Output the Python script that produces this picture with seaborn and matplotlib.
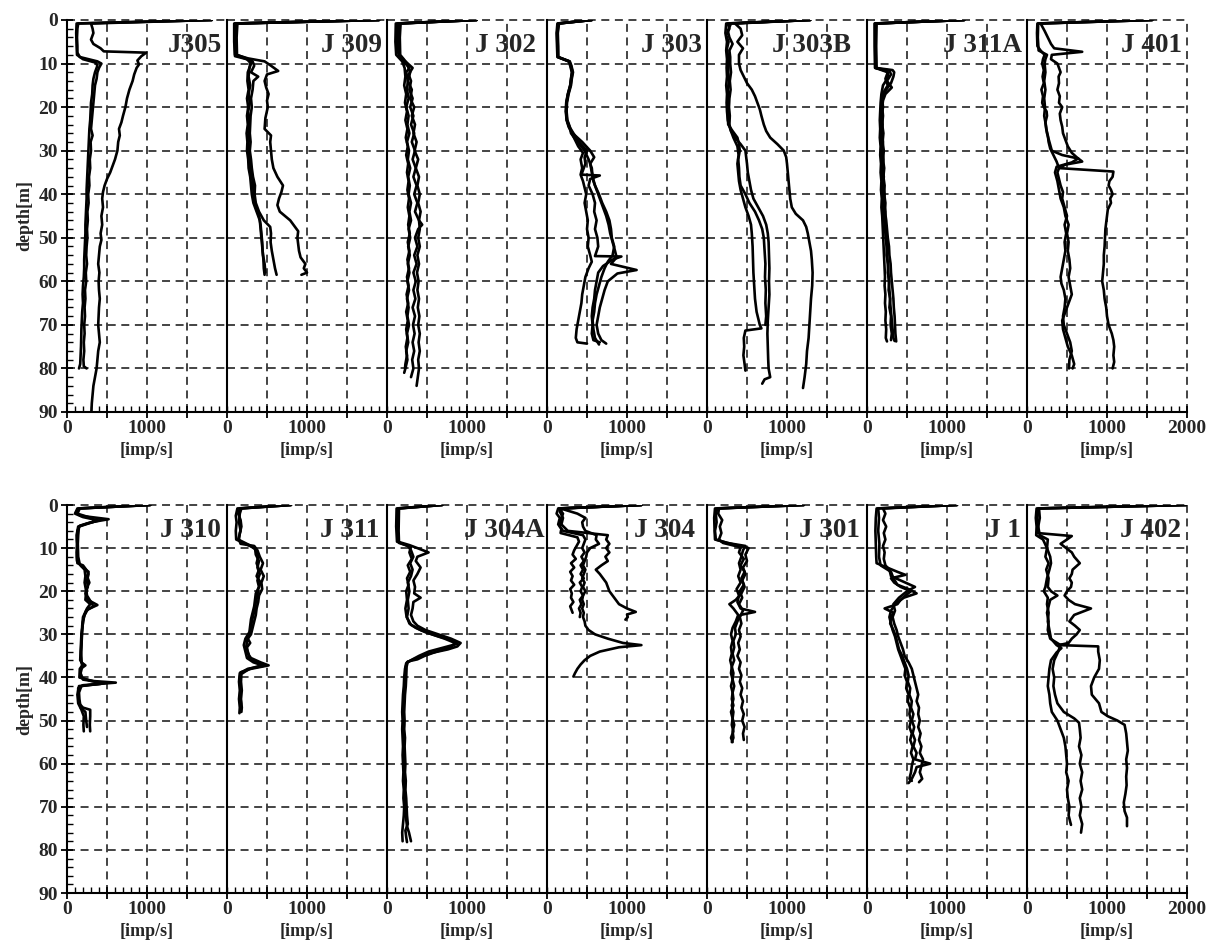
import matplotlib
matplotlib.use("Agg")
import matplotlib.pyplot as plt
import pandas as pd
import seaborn as sns
from matplotlib.ticker import FixedLocator, MultipleLocator

# Gamma-ray logs: count rate [imp/s] against depth [m], several runs per well.
# Each run is a list of (depth, rate) readings.

J305 = [
    [(0, 1810), (0.8, 300), (2, 320), (3, 330), (4.5, 300), (5.5, 330), (6.5, 420), (7.2, 460), (7.5, 990),
     (8.3, 930), (9.3, 880), (10.2, 900), (11, 870), (12.5, 840), (14, 820), (16, 780), (18, 750), (20, 730),
     (22, 700), (23.5, 680), (25, 650), (26.5, 660), (28, 640), (30, 630), (32, 600), (33.5, 570), (35, 540),
     (36.5, 500), (38, 470), (39.5, 450), (41, 440), (43, 450), (45, 430), (47, 440), (49, 420), (50.5, 430),
     (52, 410), (54, 400), (56, 390), (58, 405), (60, 395), (62, 400), (64, 410), (66, 400), (68, 395),
     (70, 390), (72, 400), (74, 410), (76, 390), (78, 380), (80, 370), (82, 350), (84, 330), (86, 320),
     (88, 310), (90, 305)],
    [(0, 1810), (0.8, 140), (2, 130), (4, 125), (6, 130), (7.5, 130), (8.5, 160), (9.5, 380), (10, 430),
     (11, 400), (12, 380), (13.5, 370), (15, 350), (17, 340), (19, 330), (21, 320), (23, 310), (25, 300),
     (26.5, 320), (28, 295), (30, 300), (32, 285), (34, 290), (36, 275), (38, 280), (40, 265), (42, 270),
     (44, 255), (46, 260), (48, 250), (50, 255), (52, 245), (54, 240), (56, 250), (58, 235), (60, 240),
     (62, 225), (64, 230), (66, 220), (68, 225), (70, 215), (72, 220), (74, 210), (76, 215), (78, 205),
     (79.5, 210), (80, 245)],
    [(0, 1810), (0.8, 120), (3, 115), (6, 120), (8, 125), (9, 200), (9.8, 360), (10.5, 380), (12, 350),
     (13.5, 330), (15, 320), (17, 315), (19, 300), (21, 295), (23, 290), (25, 280), (27, 275), (29, 270),
     (31, 265), (33, 260), (35, 255), (37, 250), (39, 245), (41, 245), (43, 240), (45, 235), (47, 230),
     (49, 230), (51, 225), (53, 220), (55, 215), (57, 215), (59, 210), (61, 200), (63, 195), (65, 200),
     (67, 190), (69, 185), (71, 180), (73, 178), (75, 175), (77, 170), (79, 165), (80, 150)],
]

J309 = [
    [(0, 1900), (0.8, 120), (4, 110), (8, 115), (8.8, 260), (9.5, 470), (10.5, 550), (11.7, 640), (12.5, 500),
     (14, 470), (15.5, 490), (17, 520), (18.5, 500), (20, 510), (22.5, 480), (25, 470), (26.5, 550), (28, 540),
     (30, 550), (32, 560), (34, 580), (36, 630), (38, 700), (39.5, 680), (41, 650), (42.5, 630), (44, 660),
     (46, 790), (47.5, 850), (48.5, 890), (50, 880), (51.5, 890), (53, 900), (54.5, 920), (56, 980), (57, 960),
     (58, 1000), (58.5, 930)],
    [(0, 1900), (0.8, 100), (4, 95), (8, 100), (8.8, 220), (9.5, 320), (10.5, 340), (12, 300), (13, 390),
     (14, 330), (16, 320), (18, 300), (20, 310), (22, 295), (24, 290), (26, 285), (28, 295), (30, 285),
     (32, 300), (34, 310), (36, 325), (38, 350), (40, 345), (42, 360), (44, 400), (46, 460), (47.5, 540),
     (49, 550), (51, 545), (53, 560), (55, 580), (57, 600), (58.5, 620)],
    [(0, 1900), (0.8, 130), (4, 120), (8, 125), (8.8, 240), (9.5, 300), (11, 280), (13, 270), (15, 290),
     (17, 270), (19, 285), (21, 265), (23, 280), (25, 270), (27, 275), (29, 265), (31, 280), (33, 285),
     (35, 300), (37, 320), (39, 330), (41, 335), (43, 360), (45, 400), (47, 420), (49, 430), (51, 440),
     (53, 445), (55, 455), (57, 460), (58.5, 470)],
    [(0, 1900), (0.8, 90), (5, 90), (8.3, 100), (9, 250), (10, 300), (12, 260), (14, 255), (16, 270),
     (18, 250), (20, 265), (22, 250), (24, 260), (26, 245), (28, 255), (30, 250), (32, 265), (34, 270),
     (36, 290), (38, 300), (40, 310), (42, 330), (44, 370), (46, 410), (48, 420), (50, 430), (52, 440),
     (54, 450), (56, 470), (58, 480)],
]

J302 = [
    [(0, 1120), (0.8, 150), (3, 140), (5, 135), (7, 140), (8, 150), (9, 200), (10, 230), (11, 280), (12, 240),
     (14, 260), (16, 250), (18, 270), (20, 240), (22, 270), (24, 255), (26, 280), (28, 250), (30, 275),
     (32, 260), (34, 290), (36, 265), (38, 285), (40, 270), (42, 300), (44, 280), (46, 300), (48, 270),
     (50, 290), (52, 265), (54, 285), (56, 260), (58, 280), (60, 255), (62, 275), (64, 250), (66, 270),
     (68, 255), (70, 275), (72, 250), (74, 265), (76, 240), (78, 255), (80, 230), (81, 215)],
    [(0, 1120), (0.8, 130), (4, 125), (7, 130), (8.5, 160), (9.5, 230), (11, 320), (12.5, 270), (14, 300),
     (16, 280), (18, 320), (20, 290), (22, 330), (24, 300), (26, 340), (28, 310), (30, 350), (32, 320),
     (34, 360), (36, 330), (38, 370), (40, 340), (42, 380), (44, 350), (46, 400), (47, 440), (48, 390),
     (50, 350), (52, 380), (54, 340), (56, 370), (58, 330), (60, 360), (62, 330), (64, 355), (66, 320),
     (68, 350), (70, 325), (72, 345), (74, 320), (76, 340), (78, 315), (80, 330), (82, 300)],
    [(0, 1120), (0.8, 170), (4, 160), (8, 165), (9, 210), (10, 250), (12, 290), (14, 260), (16, 310),
     (18, 290), (20, 340), (22, 310), (24, 350), (26, 330), (28, 370), (30, 345), (32, 390), (34, 360),
     (36, 400), (38, 380), (40, 410), (42, 390), (44, 420), (46, 400), (48, 410), (50, 390), (52, 410),
     (54, 380), (56, 400), (58, 375), (60, 395), (62, 380), (64, 400), (66, 385), (68, 405), (70, 390),
     (72, 410), (74, 395), (76, 410), (78, 390), (80, 400), (82, 385), (84, 370)],
    [(0, 1120), (0.8, 110), (5, 105), (8, 115), (9.5, 190), (11, 220), (13, 230), (15, 215), (17, 240),
     (19, 225), (21, 250), (23, 230), (25, 255), (27, 235), (29, 260), (31, 240), (33, 265), (35, 250),
     (37, 270), (39, 255), (41, 275), (43, 260), (45, 280), (47, 265), (49, 285), (51, 260), (53, 280),
     (55, 255), (57, 275), (59, 250), (61, 270), (63, 245), (65, 265), (67, 240), (69, 260), (71, 240),
     (73, 255), (75, 235), (77, 250), (79, 230), (80, 225)],
]

J303 = [
    [(0, 560), (0.8, 140), (3, 125), (6, 130), (8.5, 135), (9.5, 270), (10.5, 290), (12, 310), (13.5, 300),
     (15, 290), (17, 260), (19, 240), (21, 235), (23, 245), (24.5, 270), (26, 310), (27.5, 350), (29, 390),
     (30.5, 450), (32, 420), (34, 440), (35.5, 420), (37, 450), (38.5, 470), (40, 490), (42, 470), (44, 490),
     (46, 510), (48, 500), (50, 520), (52, 510), (54, 540), (55.5, 560), (57, 520), (59, 480), (61, 460),
     (63, 440), (65, 430), (67, 410), (69, 390), (71, 370), (73, 360), (74, 380), (74.3, 500)],
    [(0, 560), (0.8, 150), (3, 135), (6, 140), (8.5, 140), (9.5, 280), (10.5, 300), (12, 320), (13.5, 305),
     (15, 295), (17, 265), (19, 245), (21, 240), (23, 250), (24.5, 280), (26, 330), (28, 400), (30, 500),
     (31.5, 470), (33, 480), (35.5, 430), (35.7, 660), (36.5, 540), (38, 520), (40, 570), (42, 600), (44, 590),
     (46, 620), (48, 600), (50, 630), (52, 640), (54.2, 600), (54.3, 930), (55, 820), (56.5, 700), (58, 640),
     (60, 620), (62, 600), (64, 590), (66, 570), (68, 560), (70, 570), (72, 560), (73.5, 580), (74, 660)],
    [(0, 560), (0.8, 130), (3, 120), (6, 125), (8.5, 130), (9.5, 275), (10.5, 295), (12, 315), (13.5, 300),
     (15, 290), (17, 262), (19, 242), (21, 238), (23, 248), (24.5, 275), (26, 320), (28, 440), (30, 540),
     (31.5, 590), (33, 540), (35, 560), (37, 580), (39, 620), (41, 660), (43, 700), (45, 740), (47, 770),
     (49, 790), (51, 820), (53, 850), (54.5, 870), (56, 800), (57.4, 1120), (58.2, 880), (60, 760), (62, 720),
     (64, 690), (66, 660), (68, 640), (70, 620), (72, 640), (73.5, 680), (74.3, 740)],
    [(0, 560), (0.8, 145), (3, 130), (6, 135), (8.5, 140), (9.5, 285), (10.5, 305), (12, 325), (13.5, 310),
     (15, 300), (17, 270), (19, 250), (21, 245), (23, 255), (24.5, 285), (26, 300), (28, 380), (30, 470),
     (32, 520), (34, 560), (36, 570), (38, 600), (40, 650), (42, 690), (44, 740), (46, 780), (48, 800),
     (50, 810), (52, 840), (54, 820), (55.5, 760), (57, 720), (59, 680), (61, 650), (63, 620), (65, 600),
     (67, 590), (69, 570), (71, 580), (73, 600), (74.5, 650)],
]

J303B = [
    [(0, 1290), (0.8, 350), (2, 420), (3.5, 440), (5, 380), (6.5, 450), (8, 400), (10, 400), (11.5, 420),
     (13, 460), (14.5, 500), (16, 560), (17.5, 600), (19, 630), (20.5, 660), (22, 680), (24, 710), (25.5, 740),
     (27, 790), (28.5, 880), (30, 960), (31.5, 990), (33, 1000), (35, 1010), (37, 1020), (39, 1030), (41, 1040),
     (43, 1060), (44.5, 1110), (46, 1200), (47.5, 1240), (49, 1260), (51, 1280), (53, 1300), (55, 1310),
     (58, 1320), (61, 1315), (64, 1300), (67, 1290), (70, 1280), (73, 1270), (76, 1250), (79, 1240),
     (82, 1220), (84.5, 1200)],
    [(0, 1290), (0.8, 300), (2.5, 260), (4, 280), (5.5, 320), (7, 280), (8.5, 290), (10, 290), (12, 300),
     (14, 285), (16, 295), (18, 280), (20, 275), (22, 285), (24, 280), (25.5, 300), (27, 350), (28.5, 420),
     (30, 480), (31.5, 490), (33, 500), (35, 510), (37, 530), (39, 550), (41, 580), (43, 640), (45, 700),
     (47, 740), (49, 760), (51, 770), (54, 775), (57, 780), (60, 775), (63, 780), (66, 770), (69, 760),
     (72, 755), (75, 760), (78, 765), (80, 770), (82, 790), (82.5, 720), (83.5, 690)],
    [(0, 1290), (0.8, 260), (2, 280), (3.5, 240), (5, 270), (6.5, 250), (8, 260), (10, 270), (12, 265),
     (14, 275), (16, 260), (18, 265), (20, 255), (22, 260), (24, 265), (25.5, 320), (27, 380), (28.5, 400),
     (30, 410), (32, 390), (34, 400), (36, 405), (38, 420), (40, 480), (42, 530), (44, 600), (46, 650),
     (48, 690), (50, 710), (53, 720), (56, 730), (59, 725), (62, 735), (65, 730), (68, 740), (70, 730)],
    [(0, 1290), (0.8, 240), (3, 230), (5, 250), (7, 240), (9, 250), (11, 245), (13, 250), (15, 240),
     (17, 250), (19, 245), (21, 250), (23, 260), (25, 290), (27, 330), (29, 380), (31, 395), (33, 380),
     (35, 390), (37, 400), (39, 420), (41, 450), (43, 480), (45, 520), (47, 550), (49, 560), (52, 570),
     (55, 575), (58, 580), (61, 590), (64, 600), (67, 620), (70, 660), (70.8, 680), (71.3, 480), (73, 460),
     (75, 465), (77, 455), (79, 470), (80.5, 480)],
]

J311A = [
    [(0, 1215), (0.8, 110), (5, 105), (9, 110), (11, 110), (11.5, 320), (12, 340), (13, 330), (14.5, 300),
     (16, 240), (17.5, 200), (19, 180), (21, 175), (23, 170), (25, 180), (27, 170), (29, 180), (31, 175),
     (33, 185), (35, 180), (37, 190), (39, 185), (41, 200), (43, 195), (45, 210), (47, 220), (49, 230),
     (51, 240), (53, 250), (55, 255), (57, 265), (59, 270), (61, 275), (63, 285), (65, 290), (67, 300),
     (69, 310), (71, 320), (73, 330), (73.7, 345)],
    [(0, 1215), (0.8, 95), (6, 95), (11, 100), (11.6, 280), (12.5, 300), (14, 250), (15.5, 310), (17, 230),
     (18.5, 200), (20, 190), (22, 200), (24, 190), (26, 205), (28, 195), (30, 210), (32, 200), (34, 215),
     (36, 205), (38, 220), (40, 215), (42, 230), (44, 225), (46, 240), (48, 250), (50, 260), (52, 275),
     (54, 280), (56, 295), (58, 300), (60, 310), (62, 320), (64, 330), (66, 335), (68, 345), (70, 350),
     (72, 355), (73.8, 365)],
    [(0, 1215), (0.8, 120), (6, 115), (11, 120), (11.8, 250), (13, 270), (15, 200), (17, 180), (19, 170),
     (21, 165), (23, 160), (25, 165), (27, 160), (29, 170), (31, 165), (33, 175), (35, 170), (37, 180),
     (39, 175), (41, 185), (43, 180), (45, 190), (47, 195), (49, 200), (51, 205), (53, 210), (55, 215),
     (57, 220), (59, 225), (61, 220), (63, 230), (65, 225), (67, 235), (69, 230), (71, 240), (73, 235),
     (73.8, 250)],
    [(0, 1215), (0.8, 100), (11, 105), (12, 260), (13.5, 230), (15, 260), (16.5, 210), (18, 190), (20, 200),
     (22, 185), (24, 195), (26, 185), (28, 200), (30, 190), (32, 205), (34, 195), (36, 210), (38, 200),
     (40, 220), (42, 210), (44, 230), (46, 225), (48, 240), (50, 235), (52, 250), (54, 245), (56, 265),
     (58, 260), (60, 280), (62, 270), (64, 290), (66, 280), (68, 300), (70, 295), (72, 310), (73.5, 300)],
]

J401 = [
    [(0, 1565), (0.8, 130), (3, 125), (6, 130), (7, 170), (8, 220), (9, 200), (10, 190), (11.5, 210),
     (13, 195), (14.5, 210), (16, 180), (17.5, 200), (19, 190), (20, 210), (21, 245), (22, 250), (23.5, 230),
     (25, 240), (26.5, 260), (28, 270), (29.5, 290), (31, 330), (32.5, 370), (34, 400), (34.8, 1080),
     (36, 1070), (37, 1030), (38, 1020), (39, 1050), (40, 1070), (41, 1040), (42, 1050), (43.5, 1010),
     (45, 1000), (46.5, 990), (48, 980), (50, 975), (52, 970), (54, 960), (56, 960), (58, 950), (60, 940),
     (62, 960), (64, 970), (66, 990), (68, 1000), (70, 1020), (72, 1060), (73.5, 1080), (75, 1090),
     (77, 1080), (78.5, 1090), (80, 1070)],
    [(0, 1565), (0.8, 170), (2.5, 220), (4, 260), (5.5, 300), (6.5, 340), (7.3, 690), (8, 310), (9, 300),
     (10, 380), (11, 400), (12, 420), (13, 395), (14.5, 400), (16, 380), (17.5, 410), (19, 400), (20, 440),
     (21.5, 410), (23, 420), (24.5, 440), (26, 450), (27.5, 480), (29, 510), (30.5, 560), (31.5, 620),
     (32.5, 690), (33.2, 480), (34, 400), (35, 380), (36.5, 400), (38, 420), (39.5, 450), (41, 440),
     (43, 470), (45, 500), (47, 470), (49, 490), (51, 470), (53, 480), (55, 460), (57, 440), (59, 420),
     (60.5, 430), (62, 460), (64, 480), (66, 470), (68, 450), (70, 460), (72, 500), (74, 540), (76, 560),
     (78, 530), (80, 525)],
    [(0, 1565), (0.8, 140), (4, 135), (7, 145), (8, 250), (9, 230), (10, 220), (12, 230), (14, 215),
     (16, 230), (18, 215), (20, 225), (22, 215), (24, 235), (26, 250), (28, 280), (30, 310), (31, 440),
     (31.8, 640), (32.7, 560), (33.7, 370), (35, 350), (37, 380), (39, 400), (41, 420), (43, 460), (45, 480),
     (47, 520), (49, 500), (51, 520), (53, 510), (55, 530), (57, 540), (59, 520), (61, 540), (63, 560),
     (65, 520), (67, 480), (69, 440), (71, 450), (73, 480), (75, 510), (77, 560), (79, 590), (80, 570)],
]

J310 = [
    [(0, 1040), (0.8, 150), (1.8, 110), (2.5, 170), (3.3, 520), (4, 300), (4.8, 160), (6, 130), (8, 125),
     (10, 130), (12, 125), (13.5, 130), (14, 200), (15, 240), (16, 270), (17.5, 250), (19, 260), (20.5, 230),
     (22, 260), (23.2, 380), (24.2, 260), (25.5, 220), (27, 200), (29, 190), (31, 185), (33, 180), (35, 175),
     (36.5, 180), (37.2, 230), (38, 170), (40, 165), (40.8, 300), (41.2, 610), (41.8, 200), (42.5, 140),
     (44, 140), (46, 150), (47, 200), (47.5, 290), (49, 290), (51, 285), (52.5, 290)],
    [(0, 1040), (0.8, 130), (2, 100), (2.8, 200), (3.6, 400), (4.3, 250), (5, 140), (7, 120), (9, 125),
     (11, 120), (13, 125), (14.2, 180), (15.5, 270), (16.5, 250), (18, 280), (19.5, 240), (21, 250),
     (22.5, 300), (23.5, 330), (24.5, 240), (26, 210), (28, 195), (30, 180), (32, 175), (34, 170), (36, 165),
     (37, 200), (38, 160), (40, 155), (41, 350), (41.5, 420), (42, 150), (44, 130), (46, 140), (47.5, 180),
     (49, 210), (51, 205), (52.5, 210)],
    [(0, 1040), (0.8, 160), (2, 130), (3, 300), (3.8, 350), (5, 150), (7, 140), (9, 135), (12, 140),
     (13.8, 160), (15, 220), (16.5, 230), (18, 220), (20, 240), (22, 230), (23, 290), (24, 250), (26, 200),
     (28, 190), (30, 185), (32, 180), (34, 175), (36, 180), (37.5, 190), (39, 170), (40.5, 200), (41.3, 480),
     (42, 180), (43.5, 150), (45, 155), (47, 170), (48, 230), (50, 240), (51.5, 250)],
]

J311 = [
    [(0, 800), (0.8, 160), (2, 140), (3.5, 170), (5, 180), (6.5, 160), (8, 150), (9, 170), (9.5, 340),
     (10.5, 380), (12, 410), (13.5, 450), (15, 420), (16.5, 460), (18, 430), (19.5, 440), (21, 400),
     (22.5, 390), (24, 370), (25.5, 360), (27, 340), (28.5, 320), (30, 300), (31, 260), (32, 290), (33, 250),
     (34.5, 260), (35.5, 300), (36.5, 420), (37.2, 520), (38, 300), (38.8, 170), (40, 160), (42, 170),
     (44, 165), (46, 175), (48, 170)],
    [(0, 800), (0.8, 130), (2.5, 110), (4, 120), (6, 110), (8, 115), (9.2, 250), (10, 350), (11.5, 360),
     (13, 400), (14.5, 380), (16, 410), (17.5, 380), (19, 400), (20.5, 360), (22, 350), (23.5, 340), (25, 320),
     (26.5, 300), (28, 290), (29.5, 280), (31, 230), (32.5, 210), (34, 230), (35.5, 250), (36.5, 330),
     (37.3, 460), (38, 260), (39, 160), (41, 150), (43, 160), (45, 150), (47, 160), (48.3, 155)],
    [(0, 800), (0.8, 180), (2, 160), (4, 150), (6, 170), (8, 140), (9.3, 280), (10.5, 370), (12, 390),
     (13.5, 370), (15, 400), (16.5, 370), (18, 420), (19.5, 390), (21, 380), (22.5, 360), (24, 350),
     (25.5, 330), (27, 310), (28.5, 300), (30, 280), (31.5, 250), (33, 240), (34.5, 270), (35.5, 280),
     (36.5, 380), (37, 470), (38, 280), (39.2, 180), (41, 175), (43, 185), (45, 175), (47, 185), (48, 180)],
]

J304A = [
    [(0, 690), (0.8, 140), (4, 130), (8.5, 135), (9.3, 280), (10, 380), (11, 520), (12, 380), (13, 360),
     (14.5, 420), (16, 380), (17.5, 330), (19, 350), (20.5, 340), (21.5, 420), (22.5, 330), (24, 320),
     (25.5, 300), (27, 330), (28, 380), (29, 480), (30, 640), (31, 800), (32, 920), (32.8, 880), (33.5, 760),
     (34.3, 560), (35, 440), (35.8, 330), (36.5, 250), (37.5, 235), (39, 230), (41, 220), (43, 215), (45, 210),
     (47, 205), (49, 205), (51, 210), (53, 205), (55, 210), (57, 215), (59, 210), (61, 220), (63, 215),
     (65, 225), (67, 220), (69, 230), (71, 235), (73, 240), (74.5, 250), (76, 275), (78, 300)],
    [(0, 690), (0.8, 120), (5, 115), (8.5, 125), (9.5, 260), (10.5, 300), (12, 330), (13.5, 290), (15, 320),
     (16.5, 300), (18, 260), (20, 280), (22, 260), (24, 270), (26, 250), (27.5, 280), (28.5, 360), (29.5, 480),
     (30.5, 650), (31.5, 840), (32.2, 880), (33, 720), (34, 520), (35, 400), (36, 300), (36.7, 240), (38, 225),
     (40, 215), (42, 210), (44, 200), (46, 195), (48, 190), (50, 195), (52, 190), (54, 195), (56, 200),
     (58, 195), (60, 200), (62, 205), (64, 200), (66, 210), (68, 205), (70, 215), (72, 210), (74, 200),
     (76, 190), (78, 195)],
    [(0, 690), (0.8, 150), (6, 145), (8.8, 150), (9.7, 300), (11, 280), (12.5, 310), (14, 260), (15.5, 290),
     (17, 250), (18.5, 270), (20, 240), (22, 250), (24, 230), (26, 245), (27.8, 300), (29, 420), (30, 560),
     (31, 720), (32, 850), (33, 800), (34, 620), (35, 470), (35.8, 380), (36.3, 260), (37.5, 245), (40, 240),
     (42, 235), (44, 225), (46, 220), (48, 215), (50, 220), (52, 215), (54, 225), (56, 220), (58, 225),
     (60, 230), (62, 225), (64, 235), (66, 230), (68, 240), (70, 245), (72, 250), (74, 260), (75.5, 230),
     (77, 240), (78.2, 250)],
]

J304 = [
    [(0, 1180), (0.8, 200), (1.5, 160), (3, 200), (4.5, 180), (6, 260), (7, 760), (8, 740), (9, 780),
     (10, 740), (11, 780), (12, 730), (13, 760), (14, 680), (15, 610), (16, 660), (17, 700), (18, 740),
     (19, 760), (20, 780), (21, 820), (22, 860), (23, 900), (24, 1000), (24.8, 1110), (25.4, 1000),
     (26, 1010), (26.6, 980)],
    [(0, 1180), (0.8, 170), (2, 380), (3, 480), (4, 440), (5, 450), (6, 480), (7, 620), (8, 610), (9, 650),
     (10, 540), (11, 500), (12, 490), (13, 470), (14, 450), (15, 480), (16, 460), (17, 440), (18, 470),
     (19, 450), (20, 480), (21, 450), (22, 440), (23, 460), (24, 440), (25, 460), (26, 450), (27, 470),
     (28, 480), (29, 520), (30, 600), (31, 760), (32, 950), (32.5, 1180), (33, 900), (34, 660), (35, 540),
     (36, 470), (37, 420), (38, 380), (39, 350), (39.8, 330)],
    [(0, 1180), (0.8, 140), (2, 120), (3, 160), (4.5, 140), (5.5, 180), (6.5, 170), (7.5, 380), (8.5, 400),
     (9.5, 370), (10.5, 340), (11.5, 320), (12.5, 360), (13.5, 300), (14.5, 340), (15.5, 290), (16.5, 320),
     (17.5, 300), (18.5, 340), (19.5, 290), (20.5, 310), (21.5, 300), (22.5, 330), (23.5, 290), (24.5, 310),
     (25, 320)],
    [(0, 1180), (0.8, 150), (2, 200), (3.5, 170), (5, 160), (6, 200), (7, 450), (8, 480), (9, 460), (10, 440),
     (11, 470), (12, 430), (13, 460), (14, 420), (15, 450), (16, 420), (17, 460), (18, 410), (19, 440),
     (20, 420), (21, 450), (22, 410), (23, 430), (24, 400), (25, 420), (26, 410)],
]

J301 = [
    [(0, 1210), (0.8, 130), (2, 110), (4, 120), (6, 100), (8, 110), (8.8, 250), (9.5, 480), (10.5, 450),
     (12, 430), (13.5, 400), (15, 420), (16.5, 390), (18, 420), (19.5, 370), (21, 400), (22.5, 380), (24, 420),
     (24.8, 600), (25.5, 420), (27, 380), (28.5, 350), (30, 360), (31.5, 330), (33, 340), (34.5, 320),
     (36, 340), (37.5, 310), (39, 330), (40.5, 320), (42, 340), (43.5, 320), (45, 330), (46.5, 310),
     (48, 330), (49.5, 320), (51, 340), (52.5, 320), (54, 330), (55, 310)],
    [(0, 1210), (0.8, 150), (2, 140), (3.5, 190), (5, 160), (6.5, 180), (8, 150), (8.8, 200), (9.8, 420),
     (11, 400), (12.5, 460), (14, 420), (15.5, 470), (17, 430), (18.5, 460), (20, 410), (21.5, 440), (23, 400),
     (24.5, 450), (26, 410), (27.5, 430), (29, 400), (30.5, 420), (32, 390), (33.5, 410), (35, 380),
     (36.5, 420), (38, 400), (39.5, 430), (41, 410), (42.5, 440), (44, 420), (45.5, 450), (47, 430),
     (48.5, 460), (50, 440), (51.5, 470), (53, 450), (54.5, 460)],
    [(0, 1210), (0.8, 100), (3, 90), (6, 95), (8, 100), (9, 300), (10, 520), (11.5, 480), (13, 500),
     (14.5, 450), (16, 480), (17.5, 440), (19, 470), (20.5, 430), (22, 360), (23, 280), (24, 330), (25.5, 390),
     (27, 360), (28.5, 320), (30, 300), (31.5, 320), (33, 300), (34.5, 310), (36, 290), (37.5, 310), (39, 300),
     (40.5, 320), (42, 300), (43.5, 320), (45, 310), (46.5, 330), (48, 300), (49.5, 320), (51, 310),
     (52.5, 330), (54, 300), (55, 320)],
]

J1 = [
    [(0, 1125), (0.8, 120), (3, 110), (6, 105), (9, 110), (12, 115), (13.5, 120), (14.5, 250), (15.5, 380),
     (16.2, 480), (17, 300), (18, 340), (19, 420), (20, 550), (21, 480), (22, 420), (23, 380), (24, 220),
     (25, 330), (26, 300), (27.5, 290), (29, 330), (30.5, 360), (32, 380), (33.5, 400), (35, 440), (36.5, 470),
     (38, 500), (39.5, 520), (41, 510), (42.5, 540), (44, 530), (45.5, 560), (47, 550), (48.5, 580), (50, 560),
     (51.5, 590), (53, 570), (54.5, 600), (56, 580), (57.5, 620), (59, 600), (60, 790), (60.8, 620), (62, 600),
     (63.5, 560), (64.5, 520)],
    [(0, 1125), (0.8, 200), (2, 230), (3.5, 200), (5, 240), (6.5, 210), (8, 230), (9.5, 200), (11, 220),
     (12.5, 210), (14, 230), (15, 280), (16.5, 300), (18, 480), (19, 600), (20, 500), (21.5, 400), (23, 330),
     (24.5, 350), (26, 320), (27.5, 340), (29, 370), (30.5, 390), (32, 420), (33.5, 450), (35, 470),
     (36.5, 520), (38, 560), (39.5, 580), (41, 600), (42.5, 620), (44, 640), (45.5, 620), (47, 650),
     (48.5, 640), (50, 660), (51.5, 640), (53, 670), (54.5, 650), (56, 680), (57.5, 660), (59, 700),
     (60.5, 680), (62, 660), (63.5, 690), (64.3, 650)],
    [(0, 1125), (0.8, 140), (3, 150), (6, 140), (9, 155), (12, 150), (14, 170), (15.5, 300), (17, 330),
     (18.5, 380), (19.5, 520), (20.5, 620), (21.5, 460), (23, 350), (24.5, 300), (26, 280), (27.5, 300),
     (29, 320), (30.5, 350), (32, 370), (33.5, 390), (35, 420), (36.5, 450), (38, 480), (39.5, 470), (41, 500),
     (42.5, 490), (44, 520), (45.5, 510), (47, 540), (48.5, 530), (50, 550), (51.5, 530), (53, 560),
     (54.5, 540), (56, 570), (57.5, 550), (59, 580), (60.5, 560), (62, 550), (63.5, 530), (64, 560)],
]

J402 = [
    [(0, 1990), (0.8, 140), (3, 130), (5, 140), (6.5, 130), (7.2, 560), (8, 500), (9, 420), (10, 490),
     (11, 560), (12, 590), (13.5, 660), (15, 570), (16, 560), (17, 530), (18, 560), (19, 550), (20, 500),
     (21, 470), (22, 520), (23, 600), (24, 800), (25.5, 590), (27, 530), (28, 600), (29, 660), (30, 620),
     (31, 560), (32, 520), (32.5, 400), (32.8, 890), (34, 890), (36, 910), (38, 900), (40, 840), (42, 800),
     (44, 810), (46, 900), (48, 930), (49, 1010), (50, 1130), (51, 1220), (53, 1240), (55, 1250), (57, 1260),
     (59, 1240), (61, 1250), (63, 1240), (65, 1245), (67, 1230), (69, 1210), (71, 1220), (72.5, 1250),
     (74.5, 1250)],
    [(0, 1990), (0.8, 150), (3, 160), (5, 140), (7, 160), (8, 260), (10, 250), (12, 230), (13.5, 270),
     (15, 240), (17, 270), (19, 260), (20, 300), (21, 380), (22, 290), (23.5, 270), (25, 250), (27, 270),
     (29, 260), (31, 290), (32.5, 420), (34, 390), (36, 340), (38, 320), (40, 340), (42, 330), (44, 350),
     (46, 380), (48, 460), (49.5, 590), (50.5, 650), (52, 660), (54, 670), (56, 650), (58, 680), (60, 660),
     (62, 690), (64, 670), (66, 690), (68, 660), (70, 680), (72, 660), (74, 690), (76, 675)],
    [(0, 1990), (0.8, 120), (3, 110), (5, 120), (7, 115), (8, 200), (10, 250), (12, 290), (13.5, 300),
     (15, 280), (17, 250), (19, 230), (20, 210), (21.5, 260), (23, 250), (25, 270), (27, 260), (29, 280),
     (31, 300), (32.5, 370), (33.2, 430), (34.2, 370), (36, 300), (38, 280), (40, 270), (42, 260), (44, 280),
     (46, 290), (48, 310), (50, 380), (52, 420), (54, 460), (56, 480), (58, 490), (60, 500), (62, 490),
     (64, 520), (66, 500), (68, 510), (70, 530), (72, 520), (73.5, 540), (74.2, 550)],
]

TOP_NAMES = ["J305", "J 309", "J 302", "J 303", "J 303B", "J 311A", "J 401"]
TOP_WELLS = [J305, J309, J302, J303, J303B, J311A, J401]
BOTTOM_NAMES = ["J 310", "J 311", "J 304A", "J 304", "J 301", "J 1", "J 402"]
BOTTOM_WELLS = [J310, J311, J304A, J304, J301, J1, J402]

# right edge of each well name, in imp/s
TOP_NAME_X = [1935, 1935, 1860, 1935, 1800, 1935, 1935]
BOTTOM_NAME_X = [1925, 1900, 1975, 1850, 1910, 1925, 1925]

sns.set_theme(style="white")
plt.rcParams["font.family"] = ["Liberation Serif", "DejaVu Serif"]
plt.rcParams["font.weight"] = "bold"
plt.rcParams["axes.labelweight"] = "bold"

W, H = 1208, 947
fig = plt.figure(figsize=(W / 100, H / 100), dpi=100)
fig.patch.set_facecolor("white")

PANEL_LEFT = 67
PANEL_W = 160
ROWS = [
    (TOP_NAMES, TOP_WELLS, TOP_NAME_X, 20, 412),
    (BOTTOM_NAMES, BOTTOM_WELLS, BOTTOM_NAME_X, 505, 893),
]
GRID_KW = dict(color="#1a1a1a", linewidth=1.15, linestyle=(0, (5, 3.5)))

for names, wells, name_x, top_px, bottom_px in ROWS:
    n = len(names)
    for i, (name, curves, nx) in enumerate(zip(names, wells, name_x)):
        ax = fig.add_axes([
            (PANEL_LEFT + i * PANEL_W) / W,
            1 - bottom_px / H,
            PANEL_W / W,
            (bottom_px - top_px) / H,
        ])
        ax.set_facecolor("none")
        frame = pd.DataFrame(
            [(run, d, r) for run, curve in enumerate(curves) for d, r in curve],
            columns=["run", "depth", "rate"],
        )
        sns.lineplot(
            data=frame, x="rate", y="depth", units="run", estimator=None,
            sort=False, orient="y", color="black", linewidth=1.9,
            legend=False, ax=ax,
        )
        for line in ax.lines:
            line.set_solid_joinstyle("round")
            line.set_solid_capstyle("round")
            line.set_zorder(3)

        last = i == n - 1
        ax.set_xlim(0, 2000)
        ax.set_ylim(90, 0)

        xt = [0, 500, 1000, 1500] + ([2000] if last else [])
        ax.xaxis.set_major_locator(FixedLocator(xt))
        ax.set_xticklabels(["0", "", "1000", "", "2000"][: len(xt)])
        ax.xaxis.set_minor_locator(MultipleLocator(100))
        ax.yaxis.set_major_locator(MultipleLocator(10))
        ax.yaxis.set_minor_locator(MultipleLocator(2))

        ax.grid(True, which="major", **GRID_KW)
        ax.set_axisbelow(True)
        for gl in ax.get_xgridlines() + ax.get_ygridlines():
            gl.set_clip_on(False)

        for side in ("top", "right"):
            ax.spines[side].set_visible(False)
        for side in ("left", "bottom"):
            ax.spines[side].set_color("black")
            ax.spines[side].set_linewidth(1.5)
            ax.spines[side].set_zorder(4)

        ax.tick_params(axis="x", which="major", direction="inout", length=8, width=1.3,
                       color="black", labelsize=14, pad=2, bottom=True)
        ax.tick_params(axis="x", which="minor", direction="in", length=4, width=1.0,
                       color="black", bottom=True)
        if i == 0:
            ax.tick_params(axis="y", which="major", direction="inout", length=9, width=1.3,
                           color="black", labelsize=14, pad=2, left=True)
            ax.tick_params(axis="y", which="minor", direction="in", length=4, width=1.0,
                           color="black", left=True)
            ax.set_ylabel("depth[m]", fontsize=13, fontweight="bold", labelpad=4)
        else:
            ax.tick_params(axis="y", which="both", left=False, labelleft=False)
            ax.set_ylabel("")
        for lab in ax.get_xticklabels() + ax.get_yticklabels():
            lab.set_fontweight("bold")

        ax.set_xlabel("[imp/s]", fontsize=13, fontweight="bold", labelpad=3)
        ax.text(nx, 7.4, name, ha="right", va="baseline", fontsize=19.5,
                fontweight="bold", zorder=5)

fig.savefig("out.png", dpi=100, facecolor="white")
